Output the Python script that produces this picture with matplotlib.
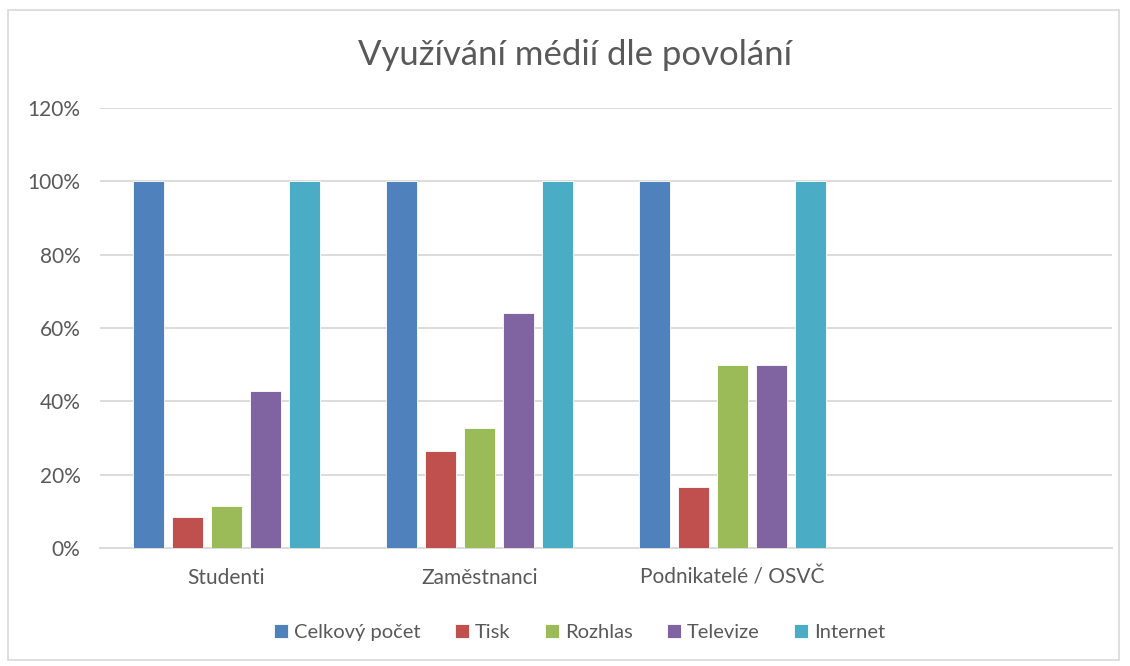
import numpy as np
import matplotlib.pyplot as plt
from matplotlib.patches import Rectangle

# data (percent)
categories = ['Studenti', 'Zaměstnanci', 'Podnikatelé / OSVČ']
series = ['Celkový počet', 'Tisk', 'Rozhlas', 'Televize', 'Internet']
celkovy = [100, 100, 100]
tisk = [8.6, 26.5, 16.7]
rozhlas = [11.4, 32.8, 50.0]
televize = [42.9, 64.1, 50.0]
internet = [100, 100, 100]

colors = ['#4F81BD', '#C0504D', '#9BBB59', '#8064A2', '#4BACC6']
text_col = '#595959'
plt.rcParams['font.family'] = ['Lato', 'DejaVu Sans']

fig = plt.figure(figsize=(11.3, 6.66), dpi=100)
ax = fig.add_axes([0.0885, 0.177, 0.8956, 0.661])

# outer chart frame
fig.patches.append(Rectangle((0.007, 0.009), 0.983, 0.976, transform=fig.transFigure,
                             fill=False, edgecolor='#d9d9d9', linewidth=1.2))

x = np.arange(len(categories))
width = 0.122
step = 0.154
values = [celkovy, tisk, rozhlas, televize, internet]
for i, (name, vals) in enumerate(zip(series, values)):
    ax.bar(x + (i - 2) * step, vals, width, color=colors[i], label=name,
           edgecolor='white', linewidth=0.6, zorder=3)

ax.set_xlim(-0.5, 3.5)
ax.set_ylim(0, 120)
ax.set_yticks(range(0, 121, 20))
ax.set_yticklabels([f'{v}%' for v in range(0, 121, 20)])
ax.set_xticks(x)
ax.set_xticklabels(categories)
ax.tick_params(length=0, labelsize=15, colors=text_col)
ax.tick_params(axis='x', pad=14)
ax.tick_params(axis='y', pad=14)

ax.grid(axis='y', color='#d9d9d9', linewidth=1.3, zorder=0)
for s in ['top', 'right', 'left']:
    ax.spines[s].set_visible(False)
ax.spines['bottom'].set_color('#d9d9d9')
ax.spines['bottom'].set_linewidth(1.3)

fig.text(0.509, 0.918, 'Využívání médií dle povolání', ha='center', va='center',
         fontsize=25, color=text_col)

leg = fig.legend(loc='center', bbox_to_anchor=(0.513, 0.05), ncol=5, frameon=False,
                 fontsize=14.5, handlelength=0.7, handleheight=0.7, handletextpad=0.3,
                 columnspacing=1.7)
for t in leg.get_texts():
    t.set_color(text_col)

fig.savefig('out.png', dpi=100)
